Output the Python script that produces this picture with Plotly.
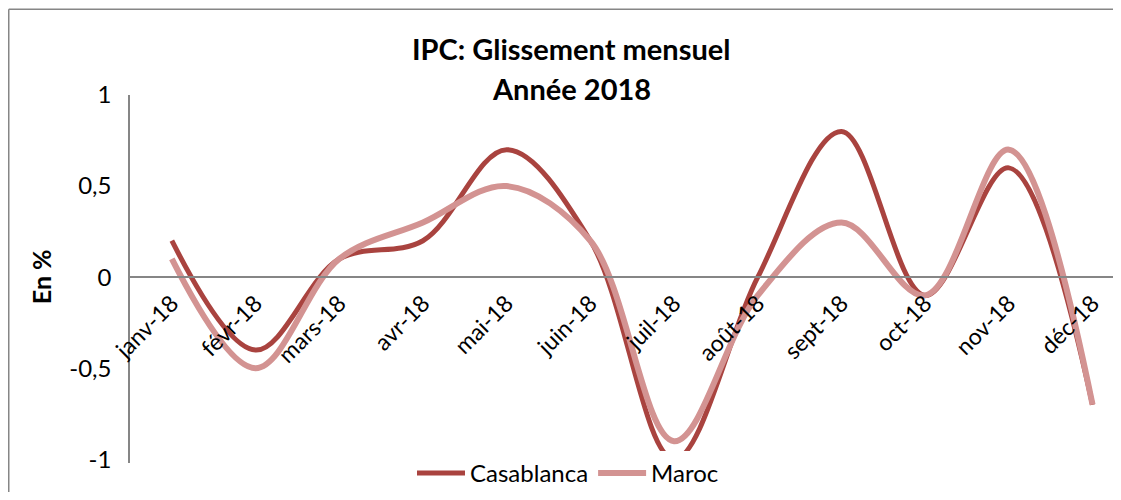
import plotly.graph_objects as go

months = ["janv-18", "févr-18", "mars-18", "avr-18", "mai-18", "juin-18",
          "juil-18", "août-18", "sept-18", "oct-18", "nov-18", "déc-18"]
casablanca = [0.2, -0.4, 0.1, 0.2, 0.7, 0.2, -1.0, 0.0, 0.8, -0.1, 0.6, -0.7]
maroc = [0.1, -0.5, 0.1, 0.3, 0.5, 0.2, -0.9, -0.1, 0.3, -0.1, 0.7, -0.7]
y_ticks = [-1, -0.5, 0, 0.5, 1]
y_ticktext = ["-1", "-0,5", "0", "0,5", "1"]

FONT = "Lato"
Y_MIN, Y_MAX = -1.02, 1.0
W, H = 1113, 484                  # page body has an 8px margin
L, T, PW = 122, 87, 991
PH = 182 * (Y_MAX - Y_MIN)        # 182 px per unit
def px(x): return (x - L) / PW
def py(y): return (T + PH - y) / PH

fig = go.Figure()
fig.add_trace(go.Scatter(x=list(range(len(months))), y=casablanca, name="Casablanca",
                         mode="lines", line=dict(color="#A9433F", width=5, shape="spline", smoothing=1.0)))
fig.add_trace(go.Scatter(x=list(range(len(months))), y=maroc, name="Maroc",
                         mode="lines", line=dict(color="#D39392", width=6, shape="spline", smoothing=1.0)))

fig.update_layout(
    width=W, height=H,
    margin=dict(l=L, r=W - L - PW, t=T, b=H - T - PH, pad=0, autoexpand=False),
    paper_bgcolor="white", plot_bgcolor="white",
    font=dict(family=FONT, size=24, color="black"),
    showlegend=True,
    legend=dict(orientation="h", x=px(560), y=py(465), xanchor="center", yanchor="middle",
                font=dict(family=FONT, size=24), itemwidth=48, traceorder="normal"),
    xaxis=dict(range=[-0.5, -0.5 + PW / 83.7], tickmode="array", tickvals=list(range(len(months))),
               ticktext=months, tickangle=-45, anchor="free", position=(0 - Y_MIN) / (Y_MAX - Y_MIN),
               showline=True, linecolor="#868686", linewidth=1.5, ticks="",
               showgrid=False, zeroline=False, ticklabelstandoff=3, automargin=False,
               tickfont=dict(family=FONT, size=23)),
    yaxis=dict(range=[Y_MIN, Y_MAX], tickmode="array", tickvals=y_ticks, ticktext=y_ticktext,
               showline=True, linecolor="#868686", linewidth=1.5, ticks="",
               showgrid=False, zeroline=False, ticklabelstandoff=12, automargin=False,
               tickfont=dict(family=FONT, size=24)),
    annotations=[
        dict(text="<b>IPC: Glissement mensuel</b>", x=px(563), y=py(41),
             xref="paper", yref="paper", showarrow=False, xanchor="center", yanchor="middle",
             font=dict(family=FONT, size=29)),
        dict(text="<b>Année 2018</b>", x=px(563), y=py(81),
             xref="paper", yref="paper", showarrow=False, xanchor="center", yanchor="middle",
             font=dict(family=FONT, size=29)),
        dict(text="<b>En %</b>", x=px(33), y=py(269), textangle=-90,
             xref="paper", yref="paper", showarrow=False, xanchor="center", yanchor="middle",
             font=dict(family=FONT, size=25)),
    ],
    shapes=[
        dict(type="line", xref="paper", yref="paper", x0=px(0.75), x1=1.2, y0=py(1.25), y1=py(1.25),
             line=dict(color="#868686", width=1.5), layer="below"),
        dict(type="line", xref="paper", yref="paper", x0=px(0.75), x1=px(0.75), y0=-0.5, y1=py(1.25),
             line=dict(color="#868686", width=1.5), layer="below"),
    ],
)
fig.write_html("out.html")
